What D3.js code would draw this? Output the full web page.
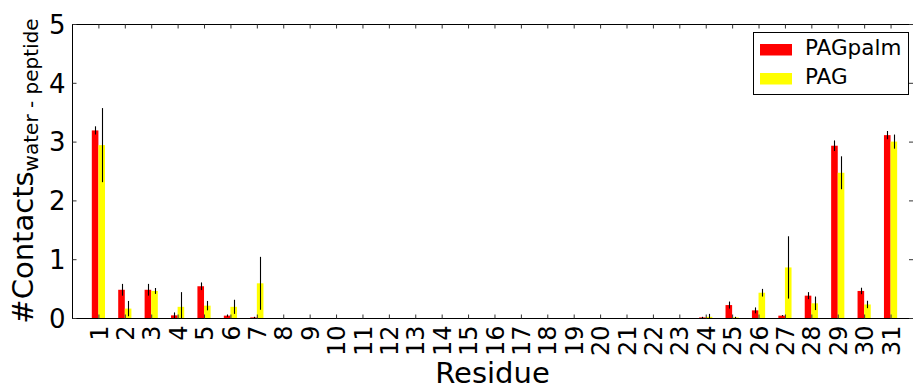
<!DOCTYPE html>
<html>
<head>
<meta charset="utf-8">
<script src="https://cdn.jsdelivr.net/npm/d3@7"></script>
<style>
  body { margin: 0; background: #fff; }
  text { font-family: "DejaVu Sans", sans-serif; fill: #000; }
</style>
</head>
<body>
<div id="chart"></div>
<script>
// residues 1..31
var residues = d3.range(1, 32);
var palmVals = [3.19, 0.48, 0.48, 0.045, 0.54, 0.04, 0.01, 0, 0, 0, 0, 0, 0, 0, 0, 0, 0, 0, 0, 0, 0, 0, 0, 0.01, 0.22, 0.13, 0.04, 0.38, 2.93, 0.46, 3.11];
var palmErr  = [0.07, 0.10, 0.10, 0.05, 0.065, 0.02, 0.01, 0, 0, 0, 0, 0, 0, 0, 0, 0, 0, 0, 0, 0, 0, 0, 0, 0.01, 0.06, 0.05, 0.01, 0.06, 0.09, 0.055, 0.07];
var pagVals  = [2.94, 0.16, 0.46, 0.19, 0.21, 0.19, 0.59, 0, 0, 0, 0, 0, 0, 0, 0, 0, 0, 0, 0, 0, 0, 0, 0, 0.02, 0.01, 0.43, 0.86, 0.25, 2.47, 0.23, 3.00];
var pagErr   = [0.63, 0.13, 0.05, 0.25, 0.08, 0.12, 0.45, 0, 0, 0, 0, 0, 0, 0, 0, 0, 0, 0, 0, 0, 0, 0, 0, 0.05, 0.01, 0.065, 0.53, 0.115, 0.28, 0.063, 0.12];
var yTicks = [0, 1, 2, 3, 4, 5];
var seriesNames = ["PAGpalm", "PAG"];
var seriesColors = ["#ff0000", "#ffff00"];

var width = 913, height = 390;
var margin = {top: 24, right: 0, bottom: 72, left: 72};

var svg = d3.select("#chart").append("svg")
    .attr("width", width)
    .attr("height", height);

var x = d3.scaleLinear().domain([0, 31.85]).range([margin.left, 913]);
var y = d3.scaleLinear().domain([0, 5]).range([318, margin.top]);
var barW = 0.25;

var series = [
  {name: seriesNames[0], vals: palmVals, err: palmErr, off: -barW, color: seriesColors[0]},
  {name: seriesNames[1], vals: pagVals, err: pagErr, off: 0, color: seriesColors[1]}
];

// bars
series.forEach(function(s) {
  svg.append("g").selectAll("rect")
    .data(residues)
    .enter().append("rect")
    .attr("x", function(d) { return x(d + s.off); })
    .attr("width", x(barW) - x(0))
    .attr("y", function(d, i) { return y(s.vals[i]); })
    .attr("height", function(d, i) { return y(0) - y(s.vals[i]); })
    .attr("fill", s.color);
});

// error bars
series.forEach(function(s) {
  svg.append("g").selectAll("line")
    .data(residues.filter(function(d, i) { return s.err[i] > 0; }))
    .enter().append("line")
    .attr("x1", function(d) { return Math.round(x(d + s.off + barW / 2)) + 0.5; })
    .attr("x2", function(d) { return Math.round(x(d + s.off + barW / 2)) + 0.5; })
    .attr("y1", function(d) { return y(Math.max(0, s.vals[d - 1] - s.err[d - 1])); })
    .attr("y2", function(d) { return y(s.vals[d - 1] + s.err[d - 1]); })
    .attr("stroke", "#000")
    .attr("stroke-width", 1.1);
});

// frame
svg.append("rect")
  .attr("x", margin.left + 0.5)
  .attr("y", margin.top + 0.5)
  .attr("width", 913 - margin.left + 2)
  .attr("height", y(0) - margin.top)
  .attr("fill", "none")
  .attr("stroke", "#000")
  .attr("stroke-width", 1);

// axes with inward ticks
var xAxis = d3.axisBottom(x).tickValues(residues).tickSize(-4).tickSizeOuter(0).tickPadding(7);
var gx = svg.append("g").attr("transform", "translate(0," + (y(0) + 0.5) + ")").call(xAxis);
gx.select(".domain").remove();
gx.selectAll(".tick line").attr("stroke", "#333");
gx.selectAll(".tick text")
  .attr("transform", "rotate(-90)")
  .attr("x", -7)
  .attr("y", 0)
  .attr("dy", "0.36em")
  .style("text-anchor", "end")
  .style("font-size", "24px")
  .style("font-family", "DejaVu Sans");

var gxt = svg.append("g").attr("transform", "translate(0," + (margin.top + 0.5) + ")")
  .call(d3.axisTop(x).tickValues(residues).tickSize(-4).tickSizeOuter(0).tickFormat(""));
gxt.select(".domain").remove();
gxt.selectAll(".tick line").attr("stroke", "#333");

var gy = svg.append("g").attr("transform", "translate(" + (margin.left + 0.5) + ",0)")
  .call(d3.axisLeft(y).tickValues(yTicks).tickSize(-4).tickSizeOuter(0).tickPadding(7).tickFormat(d3.format("d")));
gy.select(".domain").remove();
gy.selectAll(".tick line").attr("stroke", "#333");
gy.selectAll(".tick text")
  .attr("dy", "0.36em")
  .style("font-size", "26px")
  .style("font-family", "DejaVu Sans");

var gyr = svg.append("g").attr("transform", "translate(913,0)")
  .call(d3.axisRight(y).tickValues(yTicks).tickSize(-4).tickSizeOuter(0).tickFormat(""));
gyr.select(".domain").remove();
gyr.selectAll(".tick line").attr("stroke", "#333");

// axis labels
svg.append("text")
  .attr("x", (margin.left + 913) / 2)
  .attr("y", 383)
  .attr("text-anchor", "middle")
  .style("font-size", "29px")
  .text("Residue");

var ylab = svg.append("text")
  .attr("transform", "translate(33," + 171 + ") rotate(-90)")
  .attr("text-anchor", "middle")
  .style("font-size", "29px");
ylab.append("tspan").text("#Contacts");
ylab.append("tspan").attr("dy", 5).style("font-size", "20px").text("water - peptide");

// legend
var leg = svg.append("g");
leg.append("rect")
  .attr("x", 753.5).attr("y", 32.5)
  .attr("width", 155).attr("height", 62)
  .attr("fill", "#fff").attr("stroke", "#000");
series.forEach(function(s, i) {
  leg.append("rect")
    .attr("x", 760).attr("y", 44 + i * 29)
    .attr("width", 32).attr("height", 11.5)
    .attr("fill", s.color);
  leg.append("text")
    .attr("x", 805).attr("y", 55 + i * 29)
    .style("font-size", "21.5px")
    .text(s.name);
});
</script>
</body>
</html>
